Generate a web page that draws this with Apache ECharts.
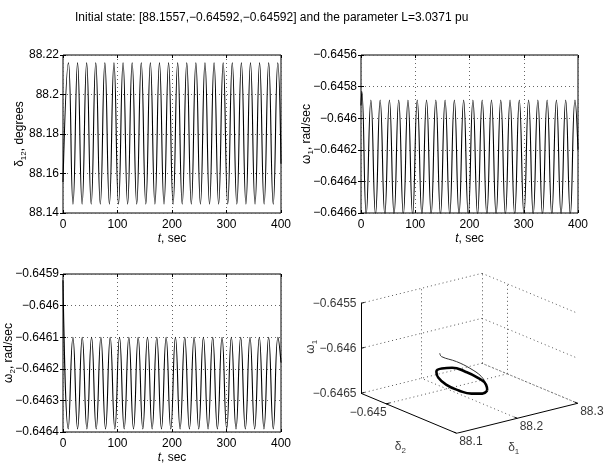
<!DOCTYPE html>
<html><head><meta charset="utf-8">
<script src="https://cdn.jsdelivr.net/npm/echarts@6/dist/echarts.min.js"></script>
<style>html,body{margin:0;padding:0;background:#fff}#c{width:604px;height:465px}</style>
</head><body><div id="c"></div>
<script>
// ---------------- data ----------------
const titleText = 'Initial state: [88.1557,\u22120.64592,\u22120.64592] and the parameter L=3.0371 pu';
const timeRange = [0, 400];
const timeInterval = 100;

// delta_12 (degrees): start, alternating peaks / troughs, end
const deltaT = [0, 10.0, 18.35, 26.7, 35.05, 43.4, 51.75, 60.1, 68.45, 76.8, 85.15, 93.5, 101.85, 110.2, 118.55, 126.9, 135.25, 143.6, 151.95, 160.3, 168.65, 177.0, 185.35, 193.7, 202.05, 210.4, 218.75, 227.1, 235.45, 243.8, 252.15, 260.5, 268.85, 277.2, 285.55, 293.9, 302.25, 310.6, 318.95, 327.3, 335.65, 344.0, 352.35, 360.7, 369.05, 377.4, 385.75, 394.1, 400];
const deltaV = [88.1557, 88.216, 88.1445, 88.216, 88.1445, 88.216, 88.1445, 88.216, 88.1445, 88.216, 88.1445, 88.216, 88.1445, 88.216, 88.1445, 88.216, 88.1445, 88.216, 88.1445, 88.216, 88.1445, 88.216, 88.1445, 88.216, 88.1445, 88.216, 88.1445, 88.216, 88.1445, 88.216, 88.1445, 88.216, 88.1445, 88.216, 88.1445, 88.216, 88.1445, 88.216, 88.1445, 88.216, 88.1445, 88.216, 88.1445, 88.216, 88.1445, 88.216, 88.1445, 88.216, 88.165];

// omega_1 (rad/sec)
const omega1T = [0, 1.5, 9.65, 18.2, 26.75, 35.3, 43.85, 52.4, 60.95, 69.5, 78.05, 86.6, 95.15, 103.7, 112.25, 120.8, 129.35, 137.9, 146.45, 155.0, 163.55, 172.1, 180.65, 189.2, 197.75, 206.3, 214.85, 223.4, 231.95, 240.5, 249.05, 257.6, 266.15, 274.7, 283.25, 291.8, 300.35, 308.9, 317.45, 326.0, 334.55, 343.1, 351.65, 360.2, 368.75, 377.3, 385.85, 394.4, 400];
const omega1V = [-0.64592, -0.64583, -0.64661, -0.645885, -0.64661, -0.645885, -0.64661, -0.645885, -0.64661, -0.645885, -0.64661, -0.645885, -0.64661, -0.645885, -0.64661, -0.645885, -0.64661, -0.645885, -0.64661, -0.645885, -0.64661, -0.645885, -0.64661, -0.645885, -0.64661, -0.645885, -0.64661, -0.645885, -0.64661, -0.645885, -0.64661, -0.645885, -0.64661, -0.645885, -0.64661, -0.645885, -0.64661, -0.645885, -0.64661, -0.645885, -0.64661, -0.645885, -0.64661, -0.645885, -0.64661, -0.645885, -0.64661, -0.645885, -0.6462];

// omega_2 (rad/sec)
const omega2T = [0, 9.65, 18.2, 26.75, 35.3, 43.85, 52.4, 60.95, 69.5, 78.05, 86.6, 95.15, 103.7, 112.25, 120.8, 129.35, 137.9, 146.45, 155.0, 163.55, 172.1, 180.65, 189.2, 197.75, 206.3, 214.85, 223.4, 231.95, 240.5, 249.05, 257.6, 266.15, 274.7, 283.25, 291.8, 300.35, 308.9, 317.45, 326.0, 334.55, 343.1, 351.65, 360.2, 368.75, 377.3, 385.85, 394.4, 400];
const omega2V = [-0.64592, -0.64639, -0.6461, -0.64639, -0.6461, -0.64639, -0.6461, -0.64639, -0.6461, -0.64639, -0.6461, -0.64639, -0.6461, -0.64639, -0.6461, -0.64639, -0.6461, -0.64639, -0.6461, -0.64639, -0.6461, -0.64639, -0.6461, -0.64639, -0.6461, -0.64639, -0.6461, -0.64639, -0.6461, -0.64639, -0.6461, -0.64639, -0.6461, -0.64639, -0.6461, -0.64639, -0.6461, -0.64639, -0.6461, -0.64639, -0.6461, -0.64639, -0.6461, -0.64639, -0.6461, -0.64639, -0.6461, -0.64618];

// y-axis ranges of the three time plots
const deltaAxis = {min: 88.14, max: 88.22, interval: 0.02};
const omega1Axis = {min: -0.6466, max: -0.6456, interval: 0.0002};
const omega2Axis = {min: -0.6464, max: -0.6459, interval: 0.0001};

// 3-D phase portrait (delta_1, delta_2, omega_1)
const d1Range = [88.1, 88.3];
const d2Range = [-0.6457, -0.64475];
const w1Range = [-0.6465, -0.6455];
const d1Ticks = [88.1, 88.2, 88.3];
const d2Ticks = [-0.645];
const w1Ticks = [-0.6465, -0.646, -0.6455];

const transD1 = [88.1436, 88.1464, 88.1712, 88.1932, 88.2126, 88.2196];
const transD2 = [-0.64527, -0.64527, -0.64527, -0.64527, -0.64527, -0.64527];
const transW1 = [-0.645884, -0.645926, -0.646023, -0.646133, -0.646259, -0.646355];

const loopD1 = [88.222, 88.214, 88.196, 88.175, 88.154, 88.141, 88.138, 88.147, 88.164, 88.186, 88.206, 88.220, 88.222];
const loopD2 = [-0.64527, -0.64527, -0.64527, -0.64527, -0.64527, -0.64527, -0.64527, -0.64527, -0.64527, -0.64527, -0.64527, -0.64527, -0.64527];
const loopW1 = [-0.64643, -0.64645, -0.64642, -0.64635, -0.64625, -0.64615, -0.64608, -0.64606, -0.64608, -0.64616, -0.64626, -0.64636, -0.64643];

// ---------------- helpers ----------------
const FONT = '"Liberation Sans", Arial, Helvetica, sans-serif';
const fmt = v => parseFloat(Number(v).toFixed(6)).toString().replace('-', '\u2212');
const zip = (a, b) => a.map((t, i) => [t, b[i]]);

// 3-D view (MATLAB default-like azimuth/elevation), in normalised screen units of a hidden 2-D grid
const VIEW = {u0: 0.4416, ex: [0.5584, 0.1875], ey: [-0.4416, 0.25], ez: [0, 0.5625]};
function proj(x, y, z) {
  const fx = (x - d1Range[0]) / (d1Range[1] - d1Range[0]);
  const fy = (y - d2Range[0]) / (d2Range[1] - d2Range[0]);
  const fz = (z - w1Range[0]) / (w1Range[1] - w1Range[0]);
  return [VIEW.u0 + fx * VIEW.ex[0] + fy * VIEW.ey[0] + fz * VIEW.ez[0],
          fx * VIEW.ex[1] + fy * VIEW.ey[1] + fz * VIEW.ez[1]];
}
const [x0, x1] = d1Range, [y0, y1] = d2Range, [z0, z1] = w1Range;
const seg = (a, b) => ({coords: [proj(...a), proj(...b)]});

const gridSegs = [];
w1Ticks.forEach(z => { gridSegs.push(seg([x0, y1, z], [x1, y1, z])); gridSegs.push(seg([x1, y1, z], [x1, y0, z])); });
d1Ticks.filter(x => x > x0).forEach(x => { gridSegs.push(seg([x, y1, z0], [x, y1, z1])); gridSegs.push(seg([x, y0, z0], [x, y1, z0])); });
d2Ticks.forEach(y => { gridSegs.push(seg([x1, y, z0], [x1, y, z1])); gridSegs.push(seg([x0, y, z0], [x1, y, z0])); });

const axisSegs = [seg([x0, y0, z0], [x1, y0, z0]), seg([x0, y0, z0], [x0, y1, z0]), seg([x0, y1, z0], [x0, y1, z1])];
const xr = x1 - x0, yr = y1 - y0;
d1Ticks.forEach(x => axisSegs.push(seg([x, y0, z0], [x, y0 + 0.03 * yr, z0])));
d2Ticks.forEach(y => axisSegs.push(seg([x0, y, z0], [x0 + 0.03 * xr, y, z0])));
w1Ticks.forEach(z => axisSegs.push(seg([x0, y1, z], [x0 + 0.03 * xr, y1, z])));

const lblBase = {show: true, color: '#000', fontSize: 12, fontFamily: FONT};
const sub = {fontSize: 8, fontFamily: FONT, color: '#000', lineHeight: 8, verticalAlign: 'bottom'};
const txt = {fontSize: 12, fontFamily: FONT, color: '#000', lineHeight: 16};
const richSet = {t: txt, s: sub, i: Object.assign({}, txt, {fontStyle: 'italic'})};

const labelPts = [];
w1Ticks.forEach(z => labelPts.push({value: proj(x0, y1, z), label: Object.assign({}, lblBase, {formatter: fmt(z), position: 'left', distance: 4})}));
d1Ticks.forEach(x => labelPts.push({value: proj(x, y0, z0), label: Object.assign({}, lblBase, {formatter: fmt(x), position: [3, 9], align: 'left', verticalAlign: 'middle'})}));
d2Ticks.forEach(y => labelPts.push({value: proj(x0, y, z0), label: Object.assign({}, lblBase, {formatter: fmt(y), position: [1, 9], align: 'right', verticalAlign: 'middle'})}));
labelPts.push({value: proj((x0 + x1) / 2, y0, z0), label: Object.assign({}, lblBase, {formatter: '{t|δ}{s|1}', rich: richSet, position: [-3, 30], align: 'center', verticalAlign: 'middle'})});
labelPts.push({value: proj(x0, (y0 + y1) / 2, z0), label: Object.assign({}, lblBase, {formatter: '{t|δ}{s|2}', rich: richSet, position: [-8, 34], align: 'center', verticalAlign: 'middle'})});
labelPts.push({value: proj(x0, y1, (z0 + z1) / 2), label: Object.assign({}, lblBase, {formatter: '{t|ω}{s|1}', rich: richSet, position: [-50, -1], align: 'center', verticalAlign: 'middle', rotate: 90})});

const transPts = transD1.map((d, i) => proj(d, transD2[i], transW1[i]));
const loopPts = loopD1.map((d, i) => proj(d, loopD2[i], loopW1[i]));

// ---------------- axes ----------------
const GRID_DOT = {color: '#666', type: [1, 3], width: 1};
function timeAxes(g) {
  return [
    {type: 'value', gridIndex: g, min: timeRange[0], max: timeRange[1], interval: timeInterval, position: 'bottom',
     axisLine: {show: false}, axisTick: {inside: true, length: 3, lineStyle: {color: '#000'}},
     axisLabel: {color: '#000', fontSize: 12, fontFamily: FONT, margin: 6, formatter: fmt},
     splitLine: {show: true, lineStyle: GRID_DOT},
     name: '{i|t}{t|, sec}', nameLocation: 'middle', nameGap: 18, nameMoveOverlap: false,
     nameTextStyle: {color: '#000', fontSize: 12, fontFamily: FONT, rich: richSet}},
    {type: 'value', gridIndex: g, min: timeRange[0], max: timeRange[1], interval: timeInterval, position: 'top',
     axisLine: {show: false}, axisTick: {inside: true, length: 3, lineStyle: {color: '#000'}},
     axisLabel: {show: false}, splitLine: {show: false}}
  ];
}
function valAxes(g, ax, name, gap) {
  return [
    {type: 'value', gridIndex: g, min: ax.min, max: ax.max, interval: ax.interval, position: 'left',
     axisLine: {show: false}, axisTick: {inside: true, length: 3, lineStyle: {color: '#000'}},
     axisLabel: {color: '#000', fontSize: 12, fontFamily: FONT, margin: 4, formatter: fmt},
     splitLine: {show: true, lineStyle: GRID_DOT},
     name: name, nameLocation: 'middle', nameGap: gap, nameRotate: 90, nameMoveOverlap: false,
     nameTextStyle: {color: '#000', fontSize: 12, fontFamily: FONT, rich: richSet}},
    {type: 'value', gridIndex: g, min: ax.min, max: ax.max, interval: ax.interval, position: 'right',
     axisLine: {show: false}, axisTick: {inside: true, length: 3, lineStyle: {color: '#000'}},
     axisLabel: {show: false}, splitLine: {show: false}}
  ];
}

const frame = {show: true, borderColor: '#000', borderWidth: 1, backgroundColor: '#fff'};
const option = {
  backgroundColor: '#fff',
  animation: false,
  title: {text: titleText, left: 70, top: 7, textStyle: {color: '#000', fontSize: 12, fontWeight: 'normal', fontFamily: FONT}},
  grid: [
    Object.assign({left: 63, top: 55, width: 218, height: 158}, frame),
    Object.assign({left: 361, top: 55, width: 217, height: 158}, frame),
    Object.assign({left: 63, top: 274, width: 218, height: 159}, frame),
    {left: 361, top: 273.3, width: 216.7, height: 160, show: false}
  ],
  xAxis: [...timeAxes(0), ...timeAxes(1), ...timeAxes(2),
    {type: 'value', gridIndex: 3, min: 0, max: 1, show: false}],
  yAxis: [...valAxes(0, deltaAxis, '{t|δ}{s|12}{t|, degrees}', 35),
          ...valAxes(1, omega1Axis, '{t|ω}{s|1}{t|, rad/sec}', 46),
          ...valAxes(2, omega2Axis, '{t|ω}{s|2}{t|, rad/sec}', 46),
    {type: 'value', gridIndex: 3, min: 0, max: 1, show: false}],
  series: [
    {type: 'line', xAxisIndex: 0, yAxisIndex: 0, data: zip(deltaT, deltaV), showSymbol: false, smooth: 0.5, lineStyle: {color: '#000', width: 1.1}},
    {type: 'line', xAxisIndex: 2, yAxisIndex: 2, data: zip(omega1T, omega1V), showSymbol: false, smooth: 0.5, lineStyle: {color: '#000', width: 1.1}},
    {type: 'line', xAxisIndex: 4, yAxisIndex: 4, data: zip(omega2T, omega2V), showSymbol: false, smooth: 0.5, lineStyle: {color: '#000', width: 1.1}},
    {type: 'lines', coordinateSystem: 'cartesian2d', xAxisIndex: 6, yAxisIndex: 6, data: gridSegs, silent: true,
     lineStyle: {color: '#555', width: 1, type: [1, 3], opacity: 1}},
    {type: 'lines', coordinateSystem: 'cartesian2d', xAxisIndex: 6, yAxisIndex: 6, data: axisSegs, silent: true,
     lineStyle: {color: '#000', width: 1, opacity: 1}},
    {type: 'line', xAxisIndex: 6, yAxisIndex: 6, data: transPts, showSymbol: false, smooth: 0.4, clip: false,
     lineStyle: {color: '#333', width: 1}},
    {type: 'line', xAxisIndex: 6, yAxisIndex: 6, data: loopPts, showSymbol: false, smooth: 0.5, clip: false,
     lineStyle: {color: '#000', width: 2.6}},
    {type: 'scatter', xAxisIndex: 6, yAxisIndex: 6, data: labelPts, symbolSize: 1, silent: true,
     itemStyle: {color: 'rgba(0,0,0,0)'}}
  ]
};
const chart = echarts.init(document.getElementById('c'), null, {renderer: 'canvas', width: 604, height: 465});
chart.setOption(option);
</script>
</body></html>
